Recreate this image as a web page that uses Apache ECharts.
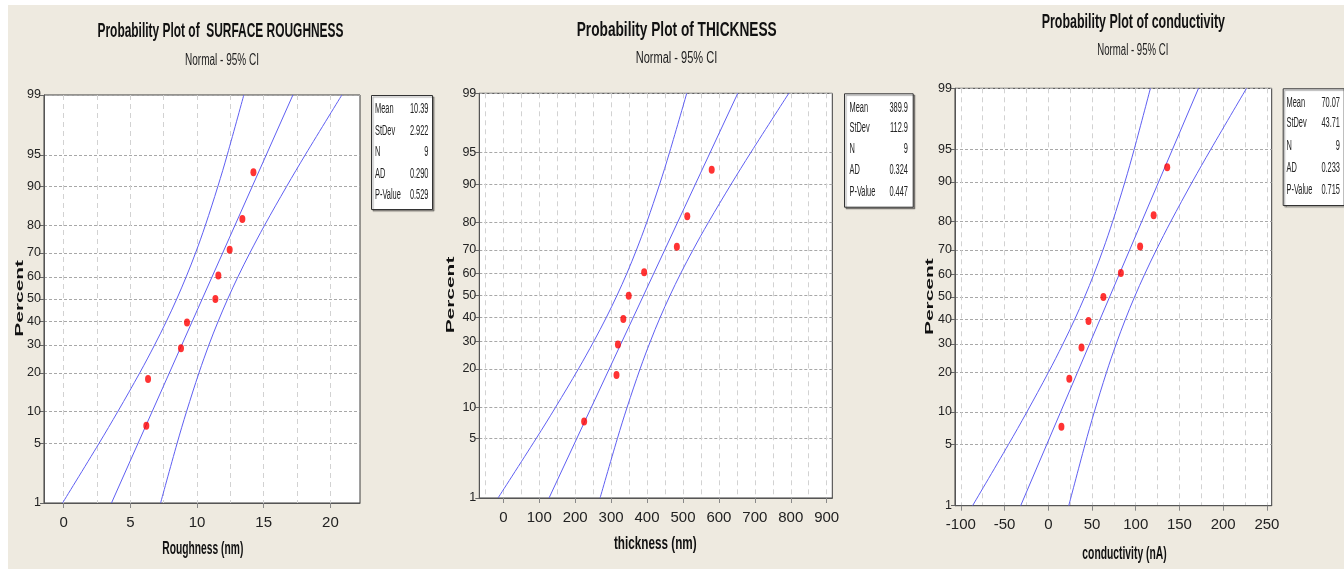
<!DOCTYPE html>
<html><head><meta charset="utf-8">
<script src="https://cdn.jsdelivr.net/npm/echarts@6/dist/echarts.min.js"></script>
<style>html,body{margin:0;padding:0;background:#fff}#c{width:1344px;height:569px}</style>
</head><body><div id="c"></div>
<script>
// ---------------- DATA ----------------
const percentTicks = [1, 5, 10, 20, 30, 40, 50, 60, 70, 80, 90, 95, 99];
const plotPercents = [7.4, 18.1, 28.7, 39.4, 50, 60.6, 71.3, 81.9, 92.6];
const statLabels = ['Mean', 'StDev', 'N', 'AD', 'P-Value'];
const subtitleText = 'Normal - 95% CI';
const yNameText = 'Percent';

const roughTitle = 'Probability Plot of  SURFACE ROUGHNESS';
const roughXName = 'Roughness (nm)';
const roughValues = [6.20, 6.33, 8.80, 9.25, 11.38, 11.60, 12.45, 13.40, 14.23];
const roughFit = [3.59, 17.19];
const roughLower = [-0.08, 2.66, 4.07, 5.71, 6.82, 7.71, 8.48, 9.19, 9.89, 10.63, 11.56, 12.27, 13.51];
const roughUpper = [7.27, 8.51, 9.22, 10.15, 10.89, 11.59, 12.30, 13.07, 13.96, 15.07, 16.71, 18.12, 20.86];
const roughTicks = [0, 5, 10, 15, 20];
const roughGridLines = [0, 2.5, 5, 7.5, 10, 12.5, 15, 17.5, 20];
const roughStats = ['10.39', '2.922', '9', '0.290', '0.529'];

const thickTitle = 'Probability Plot of THICKNESS';
const thickXName = 'thickness (nm)';
const thickValues = [225, 315, 319, 334, 349, 392, 483, 512, 580];
const thickFit = [127.3, 652.5];
const thickLower = [-14.7, 91.1, 145.7, 209.1, 252.0, 286.4, 316.1, 343.6, 370.4, 399.1, 435.1, 462.5, 510.5];
const thickUpper = [269.3, 317.3, 344.7, 380.7, 409.4, 436.2, 463.7, 493.4, 527.8, 570.7, 634.1, 688.7, 794.5];
const thickTicks = [0, 100, 200, 300, 400, 500, 600, 700, 800, 900];
const thickGridLines = [-50, 0, 50, 100, 150, 200, 250, 300, 350, 400, 450, 500, 550, 600, 650, 700, 750, 800, 850, 900];
const thickStats = ['389.9', '112.9', '9', '0.324', '0.447'];

const condTitle = 'Probability Plot of conductivity';
const condXName = 'conductivity (nA)';
const condValues = [15, 24, 38, 46, 63, 83, 105, 120.5, 136];
const condFit = [-31.6, 171.8];
const condLower = [-86.6, -45.6, -24.5, 0.05, 16.7, 30.0, 41.5, 52.1, 62.5, 73.6, 87.6, 98.2, 116.8];
const condUpper = [23.4, 42.0, 52.6, 66.5, 77.6, 88.0, 98.6, 110.2, 123.5, 140.1, 164.6, 185.8, 226.7];
const condTicks = [-100, -50, 0, 50, 100, 150, 200, 250];
const condGridLines = [-100, -75, -50, -25, 0, 25, 50, 75, 100, 125, 150, 175, 200, 225, 250];
const condStats = ['70.07', '43.71', '9', '0.233', '0.715'];

// ---------------- PROBABILITY SCALE ----------------
function probit(p) {
  const a = [-3.969683028665376e+01, 2.209460984245205e+02, -2.759285104469687e+02, 1.383577518672690e+02, -3.066479806614716e+01, 2.506628277459239e+00];
  const b = [-5.447609879822406e+01, 1.615858368580409e+02, -1.556989798598866e+02, 6.680131188771972e+01, -1.328068155288572e+01];
  const c = [-7.784894002430293e-03, -3.223964580411365e-01, -2.400758277161838e+00, -2.549732539343734e+00, 4.374664141464968e+00, 2.938163982698783e+00];
  const d = [7.784695709041462e-03, 3.224671290700398e-01, 2.445134137142996e+00, 3.754408661907416e+00];
  const plow = 0.02425, phigh = 1 - plow;
  let q, r;
  if (p < plow) {
    q = Math.sqrt(-2 * Math.log(p));
    return (((((c[0]*q+c[1])*q+c[2])*q+c[3])*q+c[4])*q+c[5]) / ((((d[0]*q+d[1])*q+d[2])*q+d[3])*q+1);
  } else if (p <= phigh) {
    q = p - 0.5; r = q*q;
    return (((((a[0]*r+a[1])*r+a[2])*r+a[3])*r+a[4])*r+a[5])*q / (((((b[0]*r+b[1])*r+b[2])*r+b[3])*r+b[4])*r+1);
  } else {
    q = Math.sqrt(-2 * Math.log(1 - p));
    return -(((((c[0]*q+c[1])*q+c[2])*q+c[3])*q+c[4])*q+c[5]) / ((((d[0]*q+d[1])*q+d[2])*q+d[3])*q+1);
  }
}
const Z = pct => probit(pct / 100);
const zTicks = percentTicks.map(Z);
const zMin = zTicks[0], zMax = zTicks[zTicks.length - 1];

// ---------------- LAYOUT ----------------
const panels = [
  { title: roughTitle, xName: roughXName, values: roughValues, fit: roughFit, lower: roughLower, upper: roughUpper, ticks: roughTicks, gridLines: roughGridLines, stats: roughStats },
  { title: thickTitle, xName: thickXName, values: thickValues, fit: thickFit, lower: thickLower, upper: thickUpper, ticks: thickTicks, gridLines: thickGridLines, stats: thickStats },
  { title: condTitle, xName: condXName, values: condValues, fit: condFit, lower: condLower, upper: condUpper, ticks: condTicks, gridLines: condGridLines, stats: condStats }
];
const layout = [
  { left: 44, top: 95, width: 316, height: 408, xMin: -1.47, xMax: 22.22,
    title: [220.5, 31, 246], sub: [222, 61, 74], xname: [202.8, 549, 81], yname: [20, 298.3, 76.7],
    box: { x: 371, y: 95, w: 61, h: 114, lx: 375, rx: 428.5, rows: [109.3, 130.7, 152.3, 174, 195.3] } },
  { left: 479.3, top: 93.3, width: 353, height: 404.7, xMin: -66.8, xMax: 915.6,
    title: [676.7, 30, 200], sub: [676.5, 59, 81.6], xname: [655.3, 544, 82.7], yname: [450.5, 295, 76.7],
    box: { x: 844, y: 93.3, w: 68.7, h: 113.4, lx: 849.5, rx: 908, rows: [107.7, 128.3, 149, 170, 191.7] } },
  { left: 955, top: 88.3, width: 316.7, height: 417.4, xMin: -106.7, xMax: 255.5,
    title: [1133.3, 22.5, 183.3], sub: [1132.8, 51, 71], xname: [1124.5, 554, 84.3], yname: [930, 296.7, 76.7],
    box: { x: 1282.7, y: 88.3, w: 61, h: 116.7, lx: 1286.5, rx: 1340, rows: [102.7, 123.3, 145.7, 168.3, 190] } }
];

const BASE = "'Liberation Sans', Arial, sans-serif";
const meas = document.createElement('canvas').getContext('2d');
function fitScale(text, font, w) { meas.font = font; return w / meas.measureText(text).width; }
function txt(text, x, y, font, opt) {
  opt = opt || {};
  return {
    type: 'text', x: x, y: y, z: 20,
    scaleX: opt.sx || 1, scaleY: opt.sy || 1, rotation: opt.rot || 0,
    style: { text: text, font: font, fill: opt.fill || '#111',
      align: opt.align || 'center', textAlign: opt.align || 'center',
      verticalAlign: 'middle', textVerticalAlign: 'middle' }
  };
}

const lineColor = '#5f5ff2';
const grids = [], xAxes = [], yAxes = [], series = [];
const graphics = [
  { type: 'rect', shape: { x: 0, y: 0, width: 1344, height: 5 }, style: { fill: '#ffffff' }, z: 1 },
  { type: 'rect', shape: { x: 0, y: 0, width: 8, height: 569 }, style: { fill: '#ffffff' }, z: 1 }
];

panels.forEach((d, i) => {
  const L = layout[i];
  grids.push({ left: L.left, top: L.top, width: L.width, height: L.height, show: true,
    backgroundColor: '#ffffff', borderColor: '#3c3c3c', borderWidth: 1 });
  xAxes.push({ type: 'value', gridIndex: i, min: L.xMin, max: L.xMax, position: 'bottom',
    axisLine: { show: true, onZero: false, lineStyle: { color: '#555', width: 1 } },
    axisTick: { show: true, customValues: d.ticks, length: 5, lineStyle: { color: '#888' } },
    axisLabel: { customValues: d.ticks, fontFamily: BASE, fontSize: 15, color: '#222', margin: 12 },
    splitLine: { show: false } });
  xAxes.push({ type: 'value', gridIndex: i, min: L.xMin, max: L.xMax, position: 'bottom',
    axisLine: { show: false }, axisTick: { show: false, customValues: d.gridLines },
    axisLabel: { show: false },
    splitLine: { show: true, lineStyle: { color: '#d2d2d2', width: 1, type: [5, 4] } } });
  yAxes.push({ type: 'value', gridIndex: i, min: zMin, max: zMax,
    axisLine: { show: true, onZero: false, lineStyle: { color: '#555', width: 1 } },
    axisTick: { show: true, customValues: zTicks, length: 4, lineStyle: { color: '#666' } },
    axisLabel: { customValues: zTicks, fontFamily: BASE, fontSize: 12.5, color: '#222', margin: 3,
      formatter: v => { let bi = 0; zTicks.forEach((t, k) => { if (Math.abs(t - v) < Math.abs(zTicks[bi] - v)) bi = k; }); return String(percentTicks[bi]); } },
    splitLine: { show: true, lineStyle: { color: '#a8a8a8', width: 1, type: [3, 2] } } });

  const xi = 2 * i;
  const lineCommon = { type: 'line', xAxisIndex: xi, yAxisIndex: i, symbol: 'none', silent: true,
    lineStyle: { color: lineColor, width: 1 }, z: 3 };
  series.push(Object.assign({}, lineCommon, { smooth: 0.35, data: percentTicks.map((p, k) => [d.lower[k], Z(p)]) }));
  series.push(Object.assign({}, lineCommon, { smooth: 0.35, data: percentTicks.map((p, k) => [d.upper[k], Z(p)]) }));
  series.push(Object.assign({}, lineCommon, { data: [[d.fit[0], Z(percentTicks[0])], [d.fit[1], Z(percentTicks[percentTicks.length - 1])]] }));
  series.push({ type: 'scatter', xAxisIndex: xi, yAxisIndex: i, symbol: 'circle', symbolSize: [6, 8], z: 5,
    itemStyle: { color: '#ff0000' }, data: d.values.map((v, k) => [v, Z(plotPercents[k])]) });

  // titles
  const tf = "bold 20px " + BASE;
  graphics.push(txt(d.title, L.title[0], L.title[1], tf, { sx: fitScale(d.title, tf, L.title[2]) }));
  const sf = "16px " + BASE;
  graphics.push(txt(subtitleText, L.sub[0], L.sub[1], sf, { sx: fitScale(subtitleText, sf, L.sub[2]), fill: '#222' }));
  const xf = "bold 18px " + BASE;
  graphics.push(txt(d.xName, L.xname[0], L.xname[1], xf, { sx: fitScale(d.xName, xf, L.xname[2]) }));
  const yf = "bold 20px " + BASE;
  graphics.push(txt(yNameText, L.yname[0], L.yname[1], yf, { sx: fitScale(yNameText, yf, L.yname[2]), sy: 0.55, rot: Math.PI / 2 }));

  // stats box
  const B = L.box;
  graphics.push({ type: 'rect', z: 15, shape: { x: B.x + 0.5, y: B.y + 0.5, width: B.w, height: B.h },
    style: { fill: '#ffffff', stroke: '#333', lineWidth: 1, shadowColor: 'rgba(0,0,0,0.35)', shadowOffsetX: 1.5, shadowOffsetY: 1.5, shadowBlur: 1 } });
  const bf = "14px " + BASE;
  statLabels.forEach((lab, k) => {
    graphics.push(txt(lab, B.lx, B.rows[k], bf, { sx: 0.53, align: 'left', fill: '#222' }));
    graphics.push(txt(d.stats[k], B.rx, B.rows[k], bf, { sx: 0.53, align: 'right', fill: '#222' }));
  });
});

const chart = echarts.init(document.getElementById('c'), null, { renderer: 'canvas' });
chart.setOption({
  backgroundColor: '#eeeae0',
  animation: false,
  grid: grids, xAxis: xAxes, yAxis: yAxes, series: series,
  graphic: { elements: graphics }
});
</script></body></html>
